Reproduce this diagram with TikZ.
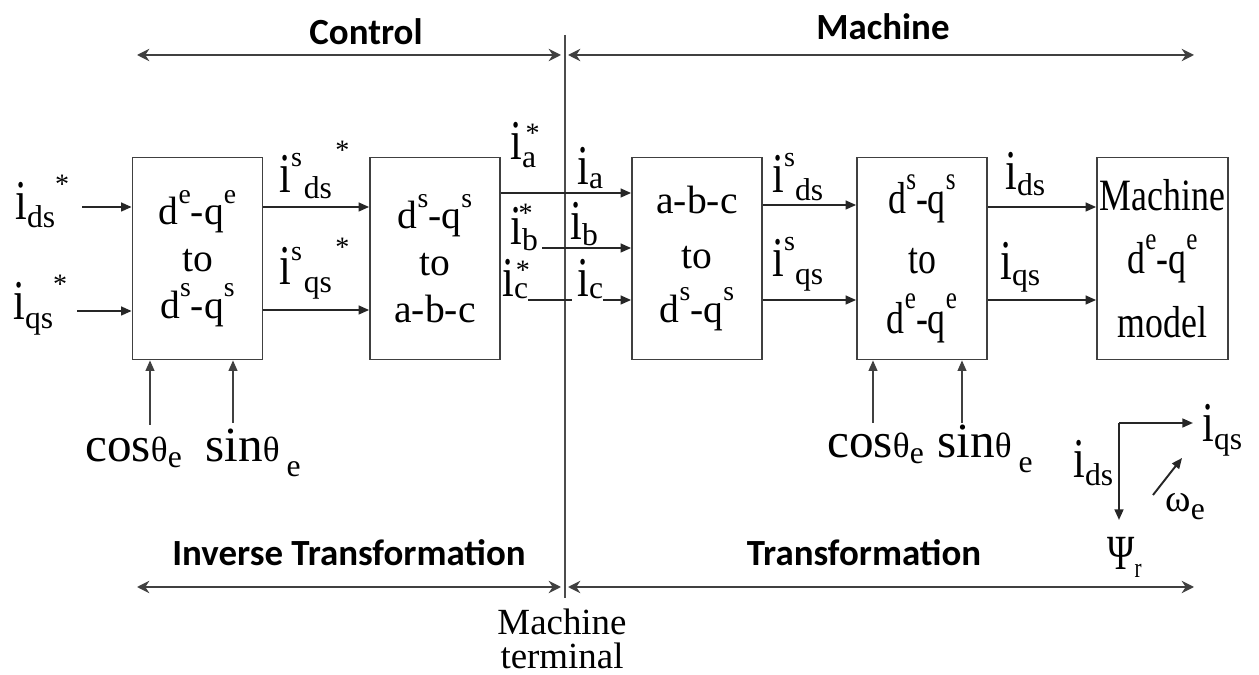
\documentclass[tikz,border=0pt]{standalone}
\usepackage{fontspec}
\setmainfont{Liberation Serif}
\newfontfamily\serifW[FakeStretch=0.8]{Liberation Serif}
\newfontfamily\serifI[FakeStretch=0.75]{Liberation Serif}
\newfontfamily\calib{Carlito}
\usetikzlibrary{arrows.meta}
\newcommand\BigI{{\serifI\fontsize{32}{32}\selectfont i}}
\newcommand\RB[3]{\raisebox{#1}{\fontsize{#2}{#2}\selectfont #3}}
\newcommand\DQ[2]{d\raisebox{0.55em}{\scalebox{0.7}{#1}}-q\raisebox{0.55em}{\scalebox{0.7}{#2}}}
\begin{document}
\begin{tikzpicture}[x=0.02cm,y=-0.02cm,
 box/.style={draw=black!75, line width=1pt, minimum width=2.6cm, minimum height=4.04cm, align=center, inner sep=0pt},
 conn/.style={line width=1.1pt, draw=black!85},
 arr/.style={conn, -{Triangle[length=6pt,width=5pt]}},
 thinarr/.style={line width=0.9pt, draw=black!75, -{Triangle[length=6pt,width=5pt]}},
 span/.style={line width=1.6pt, draw=black!75, {Stealth[length=7pt,width=7pt]}-{Stealth[length=7pt,width=7pt]}},
 lbl/.style={inner sep=0pt, anchor=base west},
 head/.style={font=\calib\bfseries\fontsize{21}{24}\selectfont, inner sep=0pt}
]
\useasboundingbox (0,0) rectangle (1259,675);

% boxes
\node[box, font=\fontsize{22.5}{26.7}\selectfont] (b1) at (197.5,258.5) {\DQ{e}{e}\\to\\\DQ{s}{s}};
\node[box, font=\fontsize{22.5}{26.7}\selectfont] (b2) at (435,258.5) {\DQ{s}{s}\\to\\a-b-c};
\node[box, font=\fontsize{22.5}{31}\selectfont] (b3) at (697,258.5) {a-b-c\\to\\\DQ{s}{s}};
\node[box, font=\serifW\fontsize{25.5}{34}\selectfont] (b4) at (922,258.5) {\DQ{s}{s}\\to\\\DQ{e}{e}};
\node[box, minimum width=2.62cm, font=\serifW\fontsize{25.5}{36}\selectfont] (b5) at (1162.5,258.5) {Machine\\\DQ{e}{e}\\model};

% headings
\node[head] (hc) at (366,32) {Control};
\node[head] (hm) at (883,27) {Machine};
\node[head] (hi) at (349,553) {Inverse Transformation};
\node[head] (ht) at (864,553) {Transformation};
\node[align=center, font=\fontsize{21}{19}\selectfont, inner sep=0pt] (mt) at (562,639) {Machine\\terminal};

% spans
\coordinate (tL) at (137,55); \coordinate (tM1) at (561,55);
\coordinate (tM2) at (568,55); \coordinate (tR) at (1194,55);
\draw[span] (tL) -- (tM1); \draw[span] (tM2) -- (tR);
\coordinate (bL) at (137,587); \coordinate (bM1) at (561,587);
\coordinate (bM2) at (568,587); \coordinate (bR) at (1194,587);
\draw[span] (bL) -- (bM1); \draw[span] (bM2) -- (bR);
\coordinate (vT) at (565,35); \coordinate (vB) at (565,598);
\draw[line width=1pt, black!70] (vT) -- (vB);

% labels
\node[lbl] (Lids) at (15,220) {\BigI\RB{-4pt}{18}{ds}\RB{15pt}{16}{*}};
\node[lbl] (Liqs) at (13,320) {\BigI\RB{-5pt}{18}{qs}\RB{15pt}{16}{*}};
\node[lbl] (Lsds) at (279,193) {\BigI\RB{15pt}{16}{s}\hspace{1pt}\RB{-3pt}{18}{ds}\hspace{2pt}\RB{19pt}{16}{*}};
\node[lbl] (Lsqs) at (279,285) {\BigI\RB{14pt}{16}{s}\hspace{1pt}\RB{-4pt}{18}{qs}\hspace{2pt}\RB{16pt}{16}{*}};
\node[lbl] (Lia) at (510,160) {\BigI\rlap{\RB{10pt}{16}{\hspace{2pt}*}}\RB{-4pt}{18}{a}};
\node[lbl] (Lib) at (510,245) {\BigI\rlap{\RB{13pt}{16}{\hspace{-2pt}*}}\RB{-3pt}{18}{b}};
\node[lbl] (Lic) at (502,297) {\BigI\rlap{\RB{10pt}{16}{\hspace{1pt}*}}\RB{-1pt}{18}{c}};
\node[lbl] (Ria) at (577,185) {\BigI\RB{-2pt}{18}{a}};
\node[lbl] (Rib) at (570,240) {\BigI\RB{-3pt}{18}{b}};
\node[lbl] (Ric) at (577,297) {\BigI\RB{-1pt}{18}{c}};
\node[lbl] (Msds) at (772,193) {\BigI\RB{15pt}{16}{s}\RB{-4pt}{18}{ds}};
\node[lbl] (Msqs) at (772,277) {\BigI\RB{15pt}{16}{s}\RB{-4pt}{18}{qs}};
\node[lbl] (Nds) at (1005,190) {\BigI\RB{-3pt}{18}{ds}};
\node[lbl] (Nqs) at (1000,280) {\BigI\RB{-3pt}{18}{qs}};
\node[lbl] (Aqs) at (1202,442) {\BigI\RB{-4pt}{18}{qs}};
\node[lbl] (Ads) at (1073,478) {\BigI\RB{-4pt}{18}{ds}};
\node[lbl] (Aw) at (1165,512) {\fontsize{22}{22}\selectfont ω\RB{-4pt}{18}{e}};
\node[lbl] (Apsi) at (1107,570) {\serifI\fontsize{28}{28}\selectfont Ψ\RB{-4pt}{16}{r}};
\node[lbl] (Lcos) at (85,462) {\fontsize{28}{28}\selectfont cos\RB{0pt}{20}{θ}\RB{-3pt}{18}{e}};
\node[lbl] (Lsin) at (205,462) {\fontsize{28}{28}\selectfont sin\RB{0pt}{20}{θ}\hspace{4pt}\RB{-8pt}{18}{e}};
\node[lbl] (Rcos) at (827,458) {\fontsize{28}{28}\selectfont cos\RB{0pt}{20}{θ}\RB{-3pt}{18}{e}};
\node[lbl] (Rsin) at (937,458) {\fontsize{28}{28}\selectfont sin\RB{0pt}{20}{θ}\hspace{4pt}\RB{-8pt}{18}{e}};

% connectors
\coordinate (ids0) at (82,207); \draw[arr] (ids0) -- (ids0 -| b1.west);
\coordinate (iqs0) at (77,311); \draw[arr] (iqs0) -- (iqs0 -| b1.west);
\coordinate (y207) at (0,207); \coordinate (y310) at (0,310);
\draw[arr] (b1.east |- y207) -- (b2.west |- y207);
\draw[arr] (b1.east |- y310) -- (b2.west |- y310);
\coordinate (ya) at (0,193);
\draw[arr] (b2.east |- ya) -- (b3.west |- ya);
\coordinate (ib0) at (542,248); \draw[arr] (ib0) -- (ib0 -| b3.west);
\coordinate (ic0) at (528,300); \coordinate (ic1) at (572,300); \coordinate (ic2) at (603,300);
\draw[conn] (ic0) -- (ic1); \draw[arr] (ic2) -- (ic2 -| b3.west);
\coordinate (y205) at (0,205); \coordinate (y300) at (0,300);
\draw[arr] (b3.east |- y205) -- (b4.west |- y205);
\draw[arr] (b3.east |- y300) -- (b4.west |- y300);
\draw[arr] (b4.east |- y207) -- (b5.west |- y207);
\draw[arr] (b4.east |- y300) -- (b5.west |- y300);
\coordinate (cs1) at (150,425); \coordinate (cs2) at (233,423);
\draw[thinarr] (cs1) -- (cs1 |- b1.south); \draw[thinarr] (cs2) -- (cs2 |- b1.south);
\coordinate (cs3) at (873,423); \coordinate (cs4) at (962,423);
\draw[thinarr] (cs3) -- (cs3 |- b4.south); \draw[thinarr] (cs4) -- (cs4 |- b4.south);
\coordinate (ax) at (1119,423); \coordinate (axq) at (1193,423); \coordinate (axd) at (1119,520);
\draw[arr] (ax) -- (axq); \draw[arr] (ax) -- (axd);
\coordinate (w0) at (1153,495); \coordinate (w1) at (1182,458);
\draw[arr] (w0) -- (w1);
\end{tikzpicture}
\end{document}
